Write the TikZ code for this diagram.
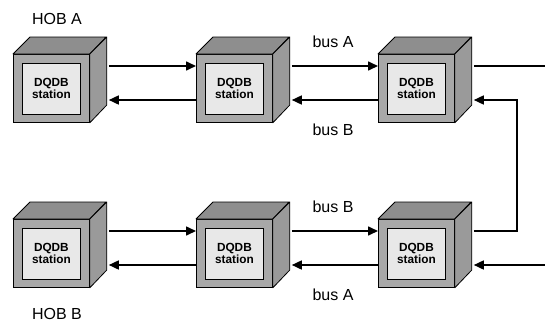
\documentclass[tikz,border=0pt]{standalone}
\usepackage{fontspec}
\setmainfont{Liberation Sans}
\usetikzlibrary{arrows.meta,calc}

\definecolor{framegray}{HTML}{A8A8A8}
\definecolor{topgray}{HTML}{8E8E8E}
\definecolor{sidegray}{HTML}{9A9A9A}
\definecolor{panelgray}{HTML}{E8E8E8}

\tikzset{
  front/.style={draw=black, line width=0.8pt, fill=framegray,
    minimum width=76pt, minimum height=68pt, inner sep=0pt, anchor=north west},
  panel/.style={draw=black, line width=0.8pt, fill=panelgray,
    minimum width=58pt, minimum height=51pt, inner sep=0pt, align=center,
    font=\bfseries\fontsize{11.8}{12.8}\selectfont},
  topface/.style={draw=black, line width=0.8pt, fill=topgray, line join=round},
  sideface/.style={draw=black, line width=0.8pt, fill=sidegray, line join=round},
  bus/.style={line width=1.6pt, -{Triangle[length=10pt,width=9pt]}},
  busline/.style={line width=1.6pt},
  lbl/.style={font=\fontsize{16}{19}\selectfont, inner sep=0pt, anchor=base}
}

% A DQDB station drawn as a cube; #1 name, (#2,#3) top-left corner of the front face.
% Ports: -ai/-ao bus-A input/output, -bi/-bo bus-B input/output.
\newcommand\dqdbstation[3]{%
  \node[front] (#1) at (#2,#3) {};
  \draw[topface] (#1.north west) -- ++(17,-17) -- ++(76,0) -- (#1.north east) -- cycle;
  \draw[sideface] (#1.north east) -- ++(17,-17) -- ++(0,68) -- (#1.south east) -- cycle;
  \node[panel] (#1-p) at (#1.center) {DQDB\\station};
  \coordinate (#1-ai) at ($(#1.north west)+(0,12)$);
  \coordinate (#1-bo) at ($(#1.north west)+(0,46)$);
  \coordinate (#1-ao) at ($(#1.north east)+(19,12)$);
  \coordinate (#1-bi) at ($(#1.north east)+(19,46)$);
}

\begin{document}
\begin{tikzpicture}[x=1pt,y=-1pt]
  \useasboundingbox (0,0) rectangle (545,324);
  \fill[white] (0,0) rectangle (545,324);

  % upper row
  \dqdbstation{a1}{13}{54}
  \dqdbstation{a2}{196}{54}
  \dqdbstation{a3}{378}{54}
  % lower row
  \dqdbstation{b1}{13}{219}
  \dqdbstation{b2}{196}{219}
  \dqdbstation{b3}{378}{219}

  % open bus ends at the right margin
  \coordinate (aout) at (545,66);
  \coordinate (bin) at (545,265);

  % upper row buses
  \draw[bus] (a1-ao) -- (a2-ai);
  \draw[bus] (a2-bo) -- (a1-bi);
  \draw[bus] (a2-ao) -- (a3-ai);
  \draw[bus] (a3-bo) -- (a2-bi);
  \draw[busline] (a3-ao) -- (aout);

  % lower row buses
  \draw[bus] (b1-ao) -- (b2-ai);
  \draw[bus] (b2-bo) -- (b1-bi);
  \draw[bus] (b2-ao) -- (b3-ai);
  \draw[bus] (b3-bo) -- (b2-bi);
  \draw[bus] (bin) -- (b3-bi);

  % loop back from the lower row to the upper row
  \draw[bus] (b3-ao) -- ++(43,0) |- (a3-bi);

  % labels
  \node[lbl] (hoba) at (57,24) {HOB A};
  \node[lbl] (hobb) at (57,319) {HOB B};
  \node[lbl] (busa1) at (333,47) {bus A};
  \node[lbl] (busb1) at (333,135) {bus B};
  \node[lbl] (busb2) at (333,212) {bus B};
  \node[lbl] (busa2) at (333,300) {bus A};
\end{tikzpicture}
\end{document}
